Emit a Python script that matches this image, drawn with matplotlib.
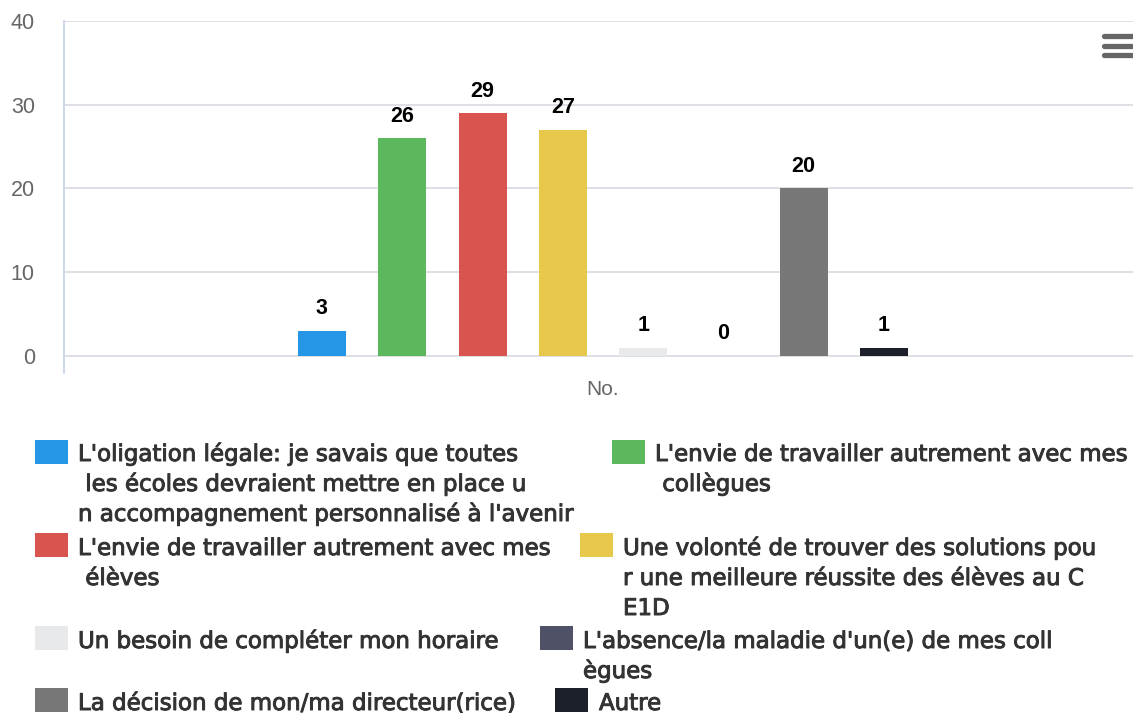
import matplotlib
matplotlib.use("Agg")
import matplotlib.pyplot as plt
import matplotlib.patheffects as pe
from matplotlib.lines import Line2D
from matplotlib.patches import Rectangle

# answers (one series per reason), single category
category = ["No."]
labels = [
    "L'oligation légale: je savais que toutes\n les écoles devraient mettre en place u\nn accompagnement personnalisé à l'avenir",
    "L'envie de travailler autrement avec mes\n collègues",
    "L'envie de travailler autrement avec mes\n élèves",
    "Une volonté de trouver des solutions pou\nr une meilleure réussite des élèves au C\nE1D",
    "Un besoin de compléter mon horaire",
    "L'absence/la maladie d'un(e) de mes coll\nègues",
    "La décision de mon/ma directeur(rice)",
    "Autre",
]
values = [3, 26, 29, 27, 1, 0, 20, 1]
colors = ["#2595e6", "#5cb85c", "#d9534f", "#e8c84a",
          "#e8e9eb", "#4f5266", "#777777", "#1c2029"]
y_ticks = [0, 10, 20, 30, 40]

W, H = 1133, 713
fig = plt.figure(figsize=(W / 100, H / 100), dpi=100)

# plot area in pixels (runs slightly past the right edge)
left, right, top, bottom = 64, 1142, 21, 373
ax = fig.add_axes([left / W, 1 - bottom / H, (right - left) / W, (bottom - top) / H])

slot = 80.3 / (right - left)
width = 48 / (right - left)
n = len(values)
for i, (v, c) in enumerate(zip(values, colors)):
    x = (i - (n - 1) / 2) * slot
    ax.bar(x, v, width=width, color=c, zorder=3)
    ax.annotate(str(v), (x, v), xytext=(0, 22), textcoords="offset pixels",
                ha="center", va="center", fontsize=15.5, fontweight="bold",
                family="Liberation Sans", color="#000000", zorder=4)

ax.set_xlim(-0.5, 0.5)
ax.set_ylim(-2.03, 40)
ax.set_yticks(y_ticks)
ax.set_xticks([0])
ax.set_xticklabels(category)
ax.grid(axis="y", color="#dadde2", linewidth=1.3, zorder=0)
ax.tick_params(axis="y", length=0, pad=21, labelsize=15.5, labelcolor="#666666")
ax.tick_params(axis="x", length=0, pad=5, labelsize=15, labelcolor="#666666")
for lab in ax.get_xticklabels() + ax.get_yticklabels():
    lab.set_family("Liberation Sans")
for s in ["top", "right", "bottom"]:
    ax.spines[s].set_visible(False)
ax.spines["left"].set_color("#ccd6eb")
ax.spines["left"].set_linewidth(1.3)

# export menu icon
for yc in [35.5, 45.5, 54.5]:
    fig.add_artist(Line2D([1104 / W, 1140 / W], [1 - yc / H, 1 - yc / H],
                          transform=fig.transFigure, color="#666666",
                          linewidth=3.8, solid_capstyle="round"))

# legend: swatch left, swatch top, text left, first baseline (pixels)
legend_pos = [
    (35, 440, 78, 461), (612, 440, 655, 461),
    (35, 533, 78, 555), (580, 533, 623, 555),
    (35, 626, 78, 648), (540, 626, 583, 648),
    (35, 688, 78, 710), (555, 688, 599, 710),
]
thicken = [pe.withStroke(linewidth=0.7, foreground="#333333")]
for lab, c, (sx, sy, tx, ty) in zip(labels, colors, legend_pos):
    fig.add_artist(Rectangle((sx / W, 1 - (sy + 24) / H), 33 / W, 24 / H,
                             transform=fig.transFigure, facecolor=c,
                             edgecolor="none"))
    for k, line in enumerate(lab.split("\n")):
        fig.text(tx / W, 1 - (ty + 30 * k) / H, line, ha="left", va="baseline",
                 fontsize=16.5, family="DejaVu Sans", color="#333333",
                 path_effects=thicken)

fig.savefig("out.png", dpi=100)
